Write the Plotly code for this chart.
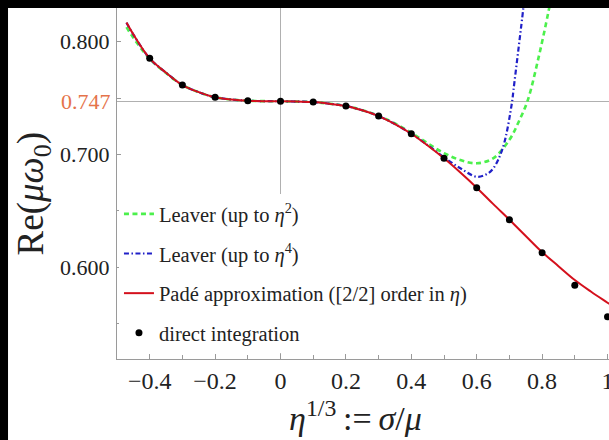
import plotly.graph_objects as go

# ---- data ----
# Padé approximation ([2/2] order in eta)
pade_x = [-0.471, -0.45, -0.40, -0.35, -0.30, -0.25, -0.20, -0.15, -0.10, -0.05, 0.00,
          0.05, 0.10, 0.15, 0.20, 0.25, 0.30, 0.35, 0.40, 0.45, 0.50, 0.55, 0.60,
          0.65, 0.70, 0.75, 0.80, 0.85, 0.90, 0.95, 1.00, 1.005]
pade_y = [0.8170, 0.8065, 0.7853, 0.7725, 0.7616, 0.7553, 0.7507, 0.7488, 0.7477, 0.7473, 0.7472,
          0.7469, 0.7465, 0.7450, 0.7430, 0.7392, 0.7341, 0.7270, 0.7184, 0.7080, 0.6966, 0.6840, 0.6706,
          0.6562, 0.6422, 0.6278, 0.6135, 0.6010, 0.5887, 0.5783, 0.5686, 0.5676]

# Leaver (up to eta^2)
leaver2_x = [-0.471, -0.45, -0.40, -0.35, -0.30, -0.25, -0.20, -0.15, -0.10, -0.05, 0.00,
             0.05, 0.10, 0.15, 0.20, 0.25, 0.30, 0.35, 0.40, 0.45, 0.50, 0.55, 0.60,
             0.65, 0.70, 0.73, 0.756, 0.79, 0.819, 0.835]
leaver2_y = [0.8130, 0.8035, 0.7848, 0.7722, 0.7616, 0.7553, 0.7507, 0.7488, 0.7477, 0.7473, 0.7472,
             0.7469, 0.7465, 0.7450, 0.7430, 0.7393, 0.7343, 0.7275, 0.7192, 0.7100, 0.7012, 0.6951, 0.6922,
             0.6966, 0.7130, 0.7300, 0.7480, 0.7870, 0.8260, 0.8500]

# Leaver (up to eta^4)
leaver4_x = [-0.471, -0.45, -0.40, -0.35, -0.30, -0.25, -0.20, -0.15, -0.10, -0.05, 0.00,
             0.05, 0.10, 0.15, 0.20, 0.25, 0.30, 0.35, 0.40, 0.45, 0.50, 0.55, 0.60,
             0.63, 0.651, 0.68, 0.7075, 0.7125, 0.743, 0.75]
leaver4_y = [0.8168, 0.8063, 0.7852, 0.7725, 0.7616, 0.7553, 0.7507, 0.7488, 0.7477, 0.7473, 0.7472,
             0.7469, 0.7465, 0.7450, 0.7430, 0.7392, 0.7341, 0.7270, 0.7184, 0.7083, 0.6975, 0.6878, 0.6803,
             0.6825, 0.6878, 0.7060, 0.7454, 0.7572, 0.8308, 0.8500]

# direct integration
direct_x = [-0.4, -0.3, -0.2, -0.1, 0.0, 0.1, 0.2, 0.3, 0.4, 0.5, 0.6, 0.7, 0.8, 0.9, 1.0]
direct_y = [0.7853, 0.7616, 0.7507, 0.7477, 0.7472, 0.7465, 0.7430, 0.7341, 0.7184,
            0.6966, 0.6706, 0.6422, 0.6129, 0.5841, 0.5562]

x_tickvals = [-0.4, -0.2, 0, 0.2, 0.4, 0.6, 0.8, 1]
x_ticktext = ["\u22120.4", "\u22120.2", "0", "0.2", "0.4", "0.6", "0.8", "1"]
y_tickvals = [0.80, 0.75, 0.70, 0.65, 0.60, 0.55]
y_ticktext = ["0.800", "", "0.700", "", "0.600", ""]
REF_Y = 0.747
REF_Y_LABEL = "0.747"

X_RANGE = [-0.5, 1.0046]
Y_RANGE = [0.5187, 0.8299]

FONT = "Liberation Serif"
GRAY = "#9a9a9a"

fig = go.Figure()
fig.add_trace(go.Scatter(
    x=leaver2_x, y=leaver2_y, mode="lines", line_shape="spline",
    name="Leaver (up to <i>\u03b7</i><sup>2</sup>)", legendgroup="a",
    line=dict(color="#4cf04c", width=2.6, dash="5px,3.5px")))
fig.add_trace(go.Scatter(
    x=leaver4_x, y=leaver4_y, mode="lines", line_shape="spline",
    name="Leaver (up to <i>\u03b7</i><sup>4</sup>)", legendgroup="b",
    line=dict(color="#2020c8", width=2.2, dash="5px,2.5px,1.5px,2.5px")))
fig.add_trace(go.Scatter(
    x=pade_x, y=pade_y, mode="lines", line_shape="spline",
    name="Pad\u00e9 approximation ([2/2] order in <i>\u03b7</i>)", legendgroup="c",
    line=dict(color="#d4101c", width=2)))
fig.add_trace(go.Scatter(
    x=direct_x, y=direct_y, mode="markers",
    name="direct integration", legendgroup="d",
    marker=dict(color="black", size=7)))

# reference line
fig.add_shape(type="line", xref="paper", x0=0, x1=1, yref="y", y0=REF_Y, y1=REF_Y,
              line=dict(color="#b0b0b0", width=1), layer="below")

# dark video-frame edges (top and left)
fig.add_shape(type="rect", xref="paper", yref="paper", x0=-0.25, x1=1.02, y0=1.0, y1=1.05,
              fillcolor="black", line=dict(width=0), layer="above")
fig.add_shape(type="rect", xref="paper", yref="paper", x0=-0.25, x1=-0.2215, y0=-0.25, y1=1.05,
              fillcolor="black", line=dict(width=0), layer="above")

fig.add_annotation(xref="paper", yref="y", x=0, y=REF_Y, text=REF_Y_LABEL,
                   xanchor="right", yanchor="middle", xshift=-4, showarrow=False,
                   font=dict(family=FONT, size=22, color="#e5734a"))
fig.add_annotation(xref="paper", yref="paper", x=-0.17, y=0.47, textangle=-90,
                   xanchor="center", yanchor="middle",
                   text="Re(<i>\u03bc\u03c9</i><sub>0</sub>)", showarrow=False,
                   font=dict(family=FONT, size=37, color="#222"))
fig.add_annotation(xref="paper", yref="paper", x=0.485, y=-0.163,
                   xanchor="center", yanchor="middle",
                   text="<i>\u03b7</i><sup>1/3</sup>\u2009:=\u2009<i>\u03c3</i>/<i>\u03bc</i>",
                   showarrow=False, font=dict(family=FONT, size=34, color="#222"))

fig.update_layout(
    width=609, height=440,
    margin=dict(l=117, r=0, t=8, b=81, autoexpand=False),
    paper_bgcolor="white", plot_bgcolor="white",
    font=dict(family=FONT, color="#222"),
    showlegend=True,
    legend=dict(x=0.004, y=0.47, xanchor="left", yanchor="top",
                bgcolor="white", borderwidth=0, tracegroupgap=10,
                traceorder="grouped", itemwidth=30,
                font=dict(family=FONT, size=20.5, color="#222")),
)
fig.update_xaxes(range=X_RANGE, tickvals=x_tickvals, ticktext=x_ticktext, automargin=False,
                 ticks="inside", ticklen=5, tickcolor=GRAY,
                 minor=dict(dtick=0.1, ticks="inside", ticklen=4, tickcolor=GRAY),
                 showline=True, linecolor=GRAY, linewidth=1.3,
                 showgrid=False, zeroline=True, zerolinecolor="#b0b0b0", zerolinewidth=1,
                 ticklabeloverflow="allow",
                 tickfont=dict(family=FONT, size=24, color="#222"), ticklabelstandoff=0)
fig.update_yaxes(range=Y_RANGE, tickvals=y_tickvals, ticktext=y_ticktext, automargin=False,
                 ticks="inside", ticklen=4, tickcolor=GRAY,
                 showline=True, linecolor=GRAY, linewidth=1.3,
                 showgrid=False, zeroline=False,
                 tickfont=dict(family=FONT, size=22, color="#222"), ticklabelstandoff=2)

fig.write_html("out.html")
